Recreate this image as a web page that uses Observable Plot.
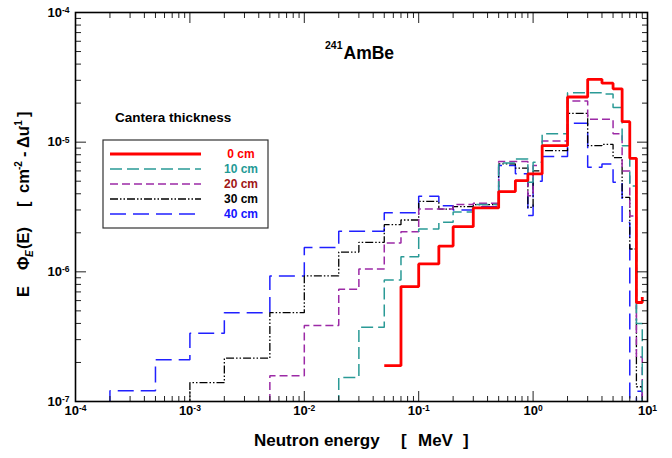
<!DOCTYPE html>
<html><head><meta charset="utf-8">
<script src="https://cdn.jsdelivr.net/npm/d3@7"></script>
<script src="https://cdn.jsdelivr.net/npm/@observablehq/plot@0.6"></script>
<style>
body{margin:0;background:#fff}
#chart svg{font-family:"Liberation Sans",Arial,sans-serif}
</style>
</head><body><div id="chart"></div>
<script>
// bin edges (MeV); value at index i is the level from edges[i] to edges[i+1]
const edges = [1e-4,2e-4,5e-4,1e-3,2e-3,5e-3,1e-2,2e-2,3e-2,5e-2,7e-2,0.1,0.15,0.2,0.3,0.5,0.7,0.9,1.0,1.2,2,3,4,5,6,7,8,9];
const cm0  = [null,null,null,null,null,null,null,null,null,1.89e-7,7.7e-7,1.15e-6,1.58e-6,2.23e-6,3.11e-6,4.16e-6,5.06e-6,5.69e-6,5.69e-6,9.42e-6,2.23e-5,3.05e-5,2.85e-5,2.58e-5,1.44e-5,7.5e-6,5.8e-7,6.4e-7];
const cm10 = [null,null,null,null,null,null,5e-8,1.53e-7,3.73e-7,8.65e-7,1.31e-6,2.14e-6,2.41e-6,2.9e-6,3.3e-6,6.9e-6,7.4e-6,4.9e-6,7.0e-6,1.16e-5,2.41e-5,2.4e-5,2.35e-5,1.85e-5,9.4e-6,4.6e-6,4.0e-7,5e-8];
const cm20 = [null,null,null,null,5e-8,1.58e-7,3.85e-7,7.33e-7,1.05e-6,1.67e-6,2.04e-6,3.05e-6,3.05e-6,3.3e-6,3.38e-6,7.1e-6,7.1e-6,3.87e-6,6.6e-6,1.02e-5,2.08e-5,1.5e-5,1.5e-5,1.16e-5,6.0e-6,2.7e-6,2.2e-7,5e-8];
const cm30 = [null,null,5e-8,1.40e-7,2.16e-7,4.84e-7,9.3e-7,1.42e-6,1.69e-6,2.31e-6,2.51e-6,3.5e-6,3.05e-6,3.18e-6,3.3e-6,6.8e-6,6.3e-6,3.14e-6,6.0e-6,8.6e-6,1.67e-5,9.4e-6,9.6e-6,7.6e-6,3.75e-6,1.5e-6,1.3e-7,5e-8];
const cm40 = [5e-8,1.21e-7,2.10e-7,3.36e-7,4.84e-7,9.3e-7,1.54e-6,2.06e-6,2.06e-6,2.85e-6,2.85e-6,3.83e-6,3.24e-6,3.0e-6,3.18e-6,6.6e-6,5.7e-6,2.72e-6,5.0e-6,7.74e-6,1.40e-5,6.4e-6,6.8e-6,4.9e-6,2.4e-6,5e-8,1.2e-7,5e-8];
const seriesNames = ["0 cm","10 cm","20 cm","30 cm","40 cm"];
const seriesValues = [cm0, cm10, cm20, cm30, cm40];
const xMajor = [1e-4,1e-3,1e-2,1e-1,1,10];
const xTickLabels = ["10^-4","10^-3","10^-2","10^-1","10^0","10^1"];
const yMajor = [1e-7,1e-6,1e-5,1e-4];
const yTickLabels = ["10^-7","10^-6","10^-5","10^-4"];
const titleText = ["241","AmBe"];
const legendTitle = "Cantera thickness";
const xTitle = ["Neutron energy","[","MeV","]"];

// styles
const styles = [
  {stroke:"#ff0000", width:2.8, dash:null, label:"#ff0000"},
  {stroke:"#2a9a96", width:1.5, dash:"12,5", label:"#1f9a96"},
  {stroke:"#9c2aa6", width:1.5, dash:"8,4", label:"#a01616"},
  {stroke:"#000000", width:1.3, dash:"8,2,1.5,2,1.5,2", label:"#000000"},
  {stroke:"#2020ff", width:1.5, dash:"16,7", label:"#1414ff"}
];

const minorOf = (lo, hi) => {
  const out = [];
  for (let e = lo; e < hi; e++) for (let k = 2; k <= 9; k++) out.push(k * Math.pow(10, e));
  return out;
};
const xMinor = minorOf(-4, 1);
const yMinor = minorOf(-7, -4);

const lineMarks = seriesNames.map((name, s) => {
  const pts = [];
  seriesValues[s].forEach((v, i) => { if (v != null) pts.push({x: edges[i], y: v, name}); });
  const st = styles[s];
  return Plot.line(pts, {x:"x", y:"y", curve:"step-after", stroke: st.stroke, strokeWidth: st.width,
    strokeDasharray: st.dash, clip: true, strokeLinejoin:"miter", strokeLinecap:"butt"});
});
const order = [4,3,2,1,0];

const tickOpts = {tickFormat: () => "", label: null, stroke: "#222", strokeWidth: 1};
const plot = Plot.plot({
  width: 672, height: 458,
  marginLeft: 75, marginRight: 25, marginTop: 12, marginBottom: 57,
  style: {background: "white", fontFamily: "Liberation Sans, Arial, sans-serif"},
  x: {type: "log", domain: [1e-4, 10], axis: null},
  y: {type: "log", domain: [1e-7, 1e-4], axis: null},
  marks: [
    ...order.map(i => lineMarks[i]),
    Plot.axisX(xMinor, {anchor: "bottom", tickSize: -5, ...tickOpts}),
    Plot.axisX(xMajor, {anchor: "bottom", tickSize: -10, ...tickOpts}),
    Plot.axisX(xMinor, {anchor: "top", tickSize: -5, ...tickOpts}),
    Plot.axisX(xMajor, {anchor: "top", tickSize: -10, ...tickOpts}),
    Plot.axisY(yMinor, {anchor: "left", tickSize: -6, ...tickOpts}),
    Plot.axisY(yMajor, {anchor: "left", tickSize: -11, ...tickOpts}),
    Plot.axisY(yMinor, {anchor: "right", tickSize: -6, ...tickOpts}),
    Plot.axisY(yMajor, {anchor: "right", tickSize: -11, ...tickOpts}),
    Plot.axisX(xMajor, {anchor: "bottom", tickSize: 0, tickPadding: 4, label: null, fontWeight: "bold", fill: "black",
      tickFormat: d => xTickLabels[xMajor.indexOf(d)]}),
    Plot.axisY(yMajor, {anchor: "left", tickSize: 0, tickPadding: 6, label: null, fontWeight: "bold", fill: "black",
      tickFormat: d => yTickLabels[yMajor.indexOf(d)]}),
    Plot.frame({stroke: "black", strokeWidth: 1.6})
  ]
});
document.getElementById("chart").appendChild(plot);

const svg = d3.select(plot);
// superscripts in tick labels
svg.selectAll("text").each(function() {
  const m = this.textContent.match(/^10\^(.+)$/);
  if (m) {
    this.textContent = "10";
    this.style.fontSize = "13px";
    this.style.fontWeight = "bold";
    d3.select(this).append("tspan").attr("dy", "-0.45em").style("font-size", "8.5px").text(m[1]);
  }
});

const txt = (sel, size) => sel.append("text").attr("text-anchor", "start").attr("fill", "black")
  .style("font-weight", "bold").style("font-size", size + "px");

// title
const title = txt(svg, 17.5).attr("x", 325).attr("y", 59);
title.append("tspan").style("font-size", "10.5px").attr("dy", -10).text(titleText[0]);
title.append("tspan").attr("dy", 10).attr("dx", 1).text(titleText[1]);

// legend
txt(svg, 13.5).attr("x", 115).attr("y", 122).text(legendTitle);
svg.append("rect").attr("x", 103).attr("y", 140).attr("width", 165).attr("height", 88)
  .attr("fill", "white").attr("stroke", "#333").attr("stroke-width", 1.2);
seriesNames.forEach((name, i) => {
  const y = 154 + i * 15;
  const st = styles[i];
  svg.append("line").attr("x1", 110).attr("x2", 201).attr("y1", y).attr("y2", y)
    .attr("stroke", st.stroke).attr("stroke-width", st.width).attr("stroke-dasharray", st.dash);
  txt(svg, 12).attr("x", 241).attr("y", y + 4.3).attr("text-anchor", "middle")
    .attr("fill", st.label).text(name);
});

// x axis title
const xt = txt(svg, 17).attr("y", 446);
xt.append("tspan").attr("x", 254).text(xTitle[0]);
xt.append("tspan").attr("x", 401).text(xTitle[1]);
xt.append("tspan").attr("x", 418).text(xTitle[2]);
xt.append("tspan").attr("x", 463).text(xTitle[3]);

// y axis title (rotated)
const yt = txt(svg, 16.5).attr("transform", "translate(29,297) rotate(-90)");
yt.append("tspan").attr("x", 0).text("E");
yt.append("tspan").attr("x", 27).text("\u03A6");
yt.append("tspan").attr("x", 40).attr("dy", 4).style("font-size", "10px").style("font-style", "italic").text("E");
yt.append("tspan").attr("x", 48).attr("dy", -4).text("(E)");
yt.append("tspan").attr("x", 90).text("[");
yt.append("tspan").attr("x", 104).text("cm");
yt.append("tspan").attr("x", 127).attr("dy", -7).style("font-size", "10px").text("-2");
yt.append("tspan").attr("x", 140).attr("dy", 7).text("-");
yt.append("tspan").attr("x", 149).text("\u0394u");
yt.append("tspan").attr("x", 168).attr("dy", -7).style("font-size", "10px").text("-1");
yt.append("tspan").attr("x", 180).attr("dy", 7).text("]");
</script>
</body></html>
